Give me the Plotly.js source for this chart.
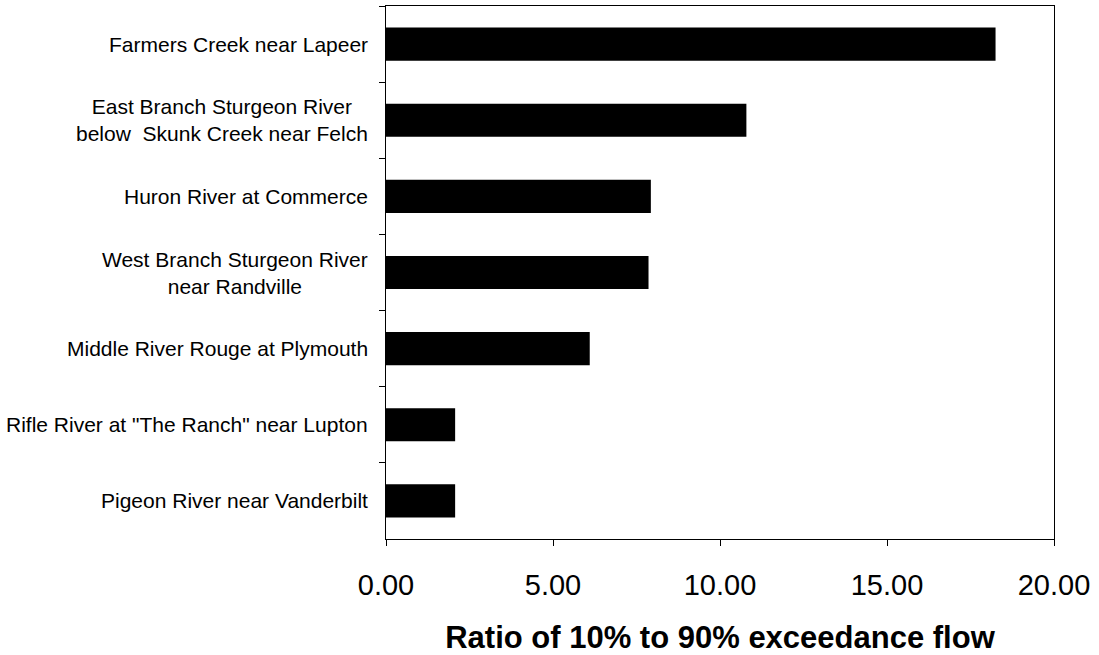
<!DOCTYPE html>
<html>
<head>
<meta charset="utf-8">
<script src="https://cdn.plot.ly/plotly-3.0.1.min.js"></script>
<style>html,body{margin:0;padding:0;background:#fff;}#chart{width:1099px;height:655px;}</style>
</head>
<body>
<div id="chart"></div>
<script>
// Categories, top to bottom
var categories = [
  "Farmers Creek near Lapeer",
  "East Branch Sturgeon River<br>below  Skunk Creek near Felch",
  "Huron River at Commerce",
  "West Branch Sturgeon River<br>near Randville",
  "Middle River Rouge at Plymouth",
  "Rifle River at \"The Ranch\" near Lupton",
  "Pigeon River near Vanderbilt"
];
var ratios = [18.25, 10.79, 7.93, 7.86, 6.1, 2.07, 2.07];
var xTickValues = [0, 5, 10, 15, 20];
var xTitle = "Ratio of 10% to 90% exceedance flow";

var font = "'Liberation Sans', Arial, sans-serif";

var trace = {
  type: "bar",
  orientation: "h",
  y: categories,
  x: ratios,
  marker: {color: "#000000", line: {color: "#000000", width: 0}},
  hoverinfo: "x+y"
};

var annotations = categories.map(function (c) {
  return {
    text: c, xref: "paper", x: 0, xshift: -16, xanchor: "right",
    yref: "y", y: c, yanchor: "middle", align: "center", showarrow: false,
    font: {family: font, size: 21, color: "#000"}
  };
});

var layout = {
  width: 1099, height: 655,
  margin: {l: 386, r: 45, t: 6, b: 116},
  paper_bgcolor: "#fff", plot_bgcolor: "#fff",
  showlegend: false,
  bargap: 0.565,
  font: {family: font, color: "#000"},
  title: {
    text: "<b>" + xTitle + "</b>",
    xref: "container", yref: "container",
    x: 720 / 1099, y: 1 - 637 / 655, xanchor: "center", yanchor: "middle",
    font: {family: font, size: 31, color: "#000"}
  },
  xaxis: {
    range: [0, 20], tickvals: xTickValues, tickformat: ".2f",
    ticks: "outside", ticklen: 6, tickcolor: "#000", tickwidth: 1,
    showline: true, linecolor: "#000", linewidth: 1, mirror: true,
    showgrid: false, zeroline: false,
    tickfont: {family: font, size: 29, color: "#000"},
    ticklabelstandoff: 14
  },
  yaxis: {
    type: "category", autorange: "reversed",
    showticklabels: false,
    ticks: "outside", ticklen: 6, tickcolor: "#000", tickwidth: 1, tickson: "boundaries",
    showline: true, linecolor: "#000", linewidth: 1, mirror: true,
    showgrid: false, zeroline: false
  },
  annotations: annotations
};

Plotly.newPlot("chart", [trace], layout, {displayModeBar: false, staticPlot: true});
</script>
</body>
</html>
